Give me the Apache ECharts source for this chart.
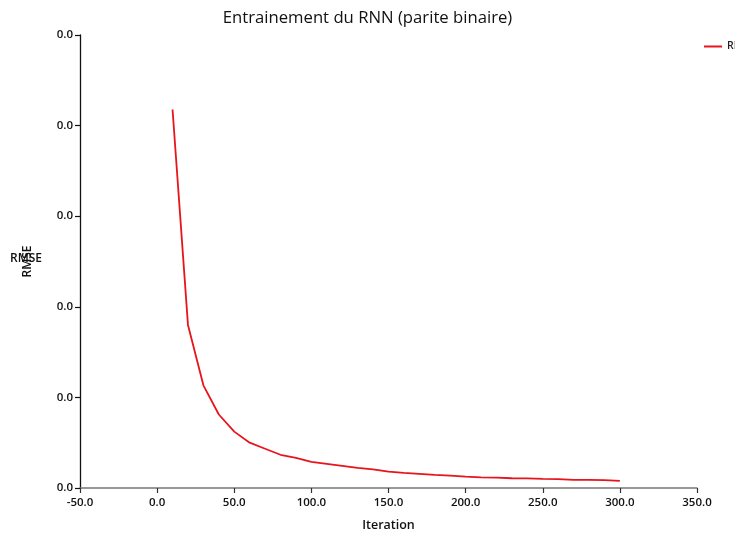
<!DOCTYPE html>
<html><head><meta charset="utf-8">
<script src="https://cdn.jsdelivr.net/npm/echarts@6/dist/echarts.min.js"></script>
<style>html,body{margin:0;padding:0;background:#fff}#c{width:735px;height:533px}</style>
</head><body><div id="c"></div>
<script>
const iterations = [10,20,30,40,50,60,70,80,90,100,110,120,130,140,150,160,170,180,190,200,210,220,230,240,250,260,270,280,290,300];
const rmse = [0.0376,0.0162,0.0102,0.0073,0.0056,0.0045,0.0039,0.0033,0.0030,0.0026,0.0024,0.0022,0.0020,0.00185,0.00162,0.00151,0.00141,0.00131,0.00122,0.00113,0.00106,0.00104,0.00097,0.00096,0.00090,0.00089,0.00081,0.00080,0.00079,0.00070];
const yTicksMax = 0.045;
const yInterval = 0.009;
const seriesName = 'RMSE';
const titleText = 'Entrainement du RNN (parite binaire)';
const xName = 'Iteration';
const yName = 'RMSE';

const chart = echarts.init(document.getElementById('c'));
const font = 'Open Sans';
chart.setOption({
  animation: false,
  textStyle: {fontFamily: font},
  title: {text: titleText, left: 'center', top: 5, textStyle: {fontFamily: font, fontSize: 16.7, fontWeight: 'normal', color: '#111'}},
  legend: {left: 699, top: 36, itemWidth: 18, itemHeight: 2, itemGap: 6, textStyle: {fontFamily: font, fontSize: 10.5, fontWeight: 600, color: '#222'},
    data: [{name: seriesName, icon: 'rect'}]},
  graphic: [{type: 'text', left: 10, top: 253, style: {text: yName, font: '600 12px "Open Sans"', fill: '#111'}}],
  grid: {left: 80, right: 38, top: 35, bottom: 45, outerBoundsMode: 'none', containLabel: false},
  xAxis: {type: 'value', min: -50, max: 350, interval: 50, name: xName, nameLocation: 'middle', nameGap: 31,
    nameTextStyle: {fontFamily: font, fontSize: 12.5, fontWeight: 600, color: '#111'},
    axisLine: {show: true, onZero: false, lineStyle: {color: '#777', width: 1.5}},
    axisTick: {show: true, length: 5, lineStyle: {color: '#333', width: 1.2}},
    axisLabel: {fontFamily: font, fontSize: 11.5, fontWeight: 600, color: '#111', margin: 9, formatter: v => v.toFixed(1)},
    splitLine: {show: false}},
  yAxis: {type: 'value', min: 0, max: yTicksMax, interval: yInterval, name: yName, nameLocation: 'middle', nameGap: 46, nameRotate: 90,
    nameTextStyle: {fontFamily: font, fontSize: 12, fontWeight: 600, color: '#111'},
    axisLine: {show: true, onZero: false, lineStyle: {color: '#111', width: 1.3}},
    axisTick: {show: true, length: 5, lineStyle: {color: '#111', width: 1.2}},
    axisLabel: {fontFamily: font, fontSize: 11.5, fontWeight: 600, color: '#111', margin: 7, formatter: v => v.toFixed(1)},
    splitLine: {show: false}},
  series: [{name: seriesName, type: 'line', data: iterations.map((x, i) => [x, rmse[i]]), showSymbol: false, symbol: 'none',
    lineStyle: {color: '#e8141c', width: 1.8}, itemStyle: {color: '#e8141c'}}]
});
</script></body></html>
